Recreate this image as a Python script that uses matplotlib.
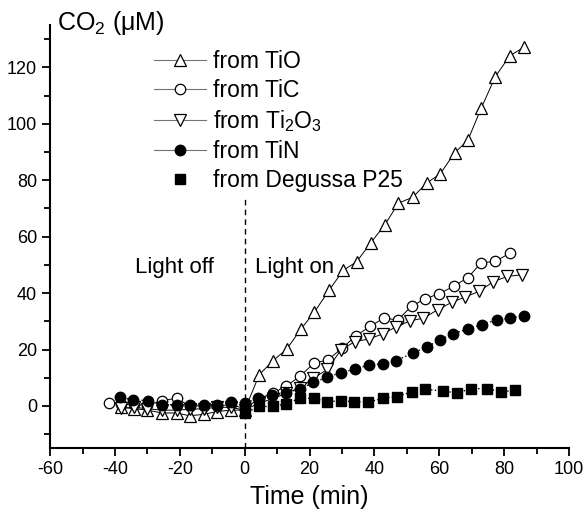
import matplotlib
matplotlib.use('Agg')
import matplotlib.pyplot as plt
from matplotlib.lines import Line2D
from matplotlib.ticker import MultipleLocator

plt.rcParams['font.family'] = ['Liberation Sans', 'DejaVu Sans']
plt.rcParams['mathtext.fontset'] = 'custom'
plt.rcParams['mathtext.rm'] = 'Liberation Sans'
plt.rcParams['axes.unicode_minus'] = False

# data (time in min, CO2 in uM)
t_tio = [-38, -34, -30, -25.5, -21, -17, -12.7, -8.5, -4.3, 0, 4.5, 8.6, 13, 17.3, 21.5, 26, 30.4,
         34.5, 38.9, 43.2, 47.4, 51.8, 56.1, 60.3, 64.7, 68.8, 72.9, 77.3, 81.7, 86.1]
v_tio = [-0.5, -1, -1.5, -2.5, -2.5, -3.5, -3, -2, -1.5, -1.5, 11.1, 15.9, 20.2, 27.2, 33.3, 41.0, 48.1,
         51.1, 57.9, 64.2, 71.9, 74.0, 79.0, 82.3, 89.7, 94.2, 105.5, 116.8, 124.1, 127.2]

t_tic = [-42, -38, -34, -30, -25.5, -21, -17, -12.7, -8.5, -4.3, 0, 4.3, 8.6, 12.8, 17.1, 21.4, 25.7,
         30, 34.3, 38.6, 42.9, 47.2, 51.5, 55.7, 60, 64.4, 68.8, 72.9, 77.3, 81.7]
v_tic = [1.2, 0.5, 0.5, 0.2, 1.9, 2.7, 0, 0, 0, 0.5, -1.0, 2.5, 4.5, 7.0, 10.6, 15.2, 16.3,
         20.5, 24.8, 28.2, 31.1, 30.5, 35.4, 38.0, 39.8, 42.4, 45.5, 50.7, 51.3, 54.1]

t_ti2o3 = [-38, -34, -30, -25.5, -21, -17, -12.7, -8.5, -4.3, 0, 4.3, 8.6, 12.8, 17.1, 21.2, 25.5, 29.7,
           34, 38.2, 42.5, 46.8, 51.1, 55.1, 59.5, 63.8, 67.9, 72.3, 76.7, 81.0, 85.4]
v_ti2o3 = [-0.8, -0.5, -1, -1.5, -1.5, -1.2, -1, -0.5, -0.5, -1.5, 1.0, 2.5, 4.5, 6.5, 9.8, 13.0, 19.9,
           22.8, 23.7, 25.5, 28.1, 30.2, 31.1, 34.1, 36.7, 38.6, 40.6, 44.1, 45.9, 46.5]

t_tin = [-38.6, -34.3, -29.7, -25.6, -21, -17, -12.7, -8.4, -4.3, 0, 4.2, 8.4, 12.7, 16.9, 21.2, 25.5,
         29.7, 34, 38.4, 42.6, 46.7, 51.8, 56.3, 60.2, 64.1, 68.7, 73.1, 77.7, 81.8, 86.1]
v_tin = [3.1, 2.1, 1.9, 0.4, 0.4, 0.4, 0.4, 0.4, 1.5, 1.0, 2.7, 3.9, 4.7, 5.9, 8.3, 10.2,
         11.8, 13.0, 14.6, 14.9, 16.1, 18.7, 21.0, 23.4, 25.6, 27.2, 28.8, 30.5, 31.1, 32.0]

t_p25 = [0, 4.5, 8.7, 12.8, 16.9, 21.4, 25.5, 29.7, 33.8, 38.1, 42.6, 46.9, 51.5, 55.6, 61.1, 65.4,
         69.9, 74.7, 79.1, 83.5]
v_p25 = [-2.6, -0.2, -0.2, 0.7, 2.7, 2.7, 1.5, 1.8, 1.5, 1.3, 2.7, 3.3, 5.0, 5.9, 5.3, 4.6,
         6.1, 6.1, 5.0, 5.5]

labels = ['from TiO', 'from TiC', 'from Ti$_2$O$_3$', 'from TiN', 'from Degussa P25']

fig = plt.figure(figsize=(5.83, 5.14), dpi=100)
ax = fig.add_axes([0.086, 0.128, 0.89, 0.823])

lw = 0.7
ax.plot(t_tio, v_tio, '-', color='k', lw=lw, marker='^', ms=8, mfc='white', mec='k', mew=0.9)
ax.plot(t_tic, v_tic, '-', color='k', lw=lw, marker='o', ms=7.5, mfc='white', mec='k', mew=0.9)
ax.plot(t_ti2o3, v_ti2o3, '-', color='k', lw=lw, marker='v', ms=8, mfc='white', mec='k', mew=0.9)
ax.plot(t_tin, v_tin, ':', color='k', lw=1, marker='o', ms=7.5, mfc='k', mec='k')
ax.plot(t_p25, v_p25, ':', color='k', lw=1, marker='s', ms=6.5, mfc='k', mec='k')

# light on marker
ax.plot([0, 0], [-15, 74], '--', color='k', lw=1, dashes=(4, 3))
ax.text(-33.8, 49, 'Light off', fontsize=16, va='center')
ax.text(3.2, 49, 'Light on', fontsize=16, va='center')

handles = [
    Line2D([], [], color='0.45', lw=0.8, marker='^', ms=8, mfc='white', mec='k', mew=0.9),
    Line2D([], [], color='0.45', lw=0.8, marker='o', ms=7.5, mfc='white', mec='k', mew=0.9),
    Line2D([], [], color='0.45', lw=0.8, marker='v', ms=8, mfc='white', mec='k', mew=0.9),
    Line2D([], [], color='0.45', lw=0.8, marker='o', ms=7.5, mfc='k', mec='k'),
    Line2D([], [], ls='none', marker='s', ms=6.5, mfc='k', mec='k'),
]
ax.legend(handles, labels, loc='upper left', bbox_to_anchor=(0.16, 0.99), frameon=False,
          fontsize=16.5, handlelength=2.3, handletextpad=0.3, labelspacing=0.26)

ax.set_xlim(-60, 100)
ax.set_ylim(-15, 135)
ax.xaxis.set_major_locator(MultipleLocator(20))
ax.xaxis.set_minor_locator(MultipleLocator(10))
ax.yaxis.set_major_locator(MultipleLocator(20))
ax.yaxis.set_minor_locator(MultipleLocator(10))
ax.set_yticks(range(0, 121, 20))
for s in ['top', 'right']:
    ax.spines[s].set_visible(False)
for s in ['left', 'bottom']:
    ax.spines[s].set_linewidth(1.5)
ax.tick_params(which='major', direction='out', length=6, width=1.3, labelsize=13)
ax.tick_params(which='minor', direction='out', length=4, width=1.3)

ax.set_xlabel('Time (min)', fontsize=18, labelpad=5)
fig.text(0.098, 0.955, 'CO$_2$ (μM)', fontsize=18, ha='left', va='center')

fig.savefig('out.png', dpi=100)
